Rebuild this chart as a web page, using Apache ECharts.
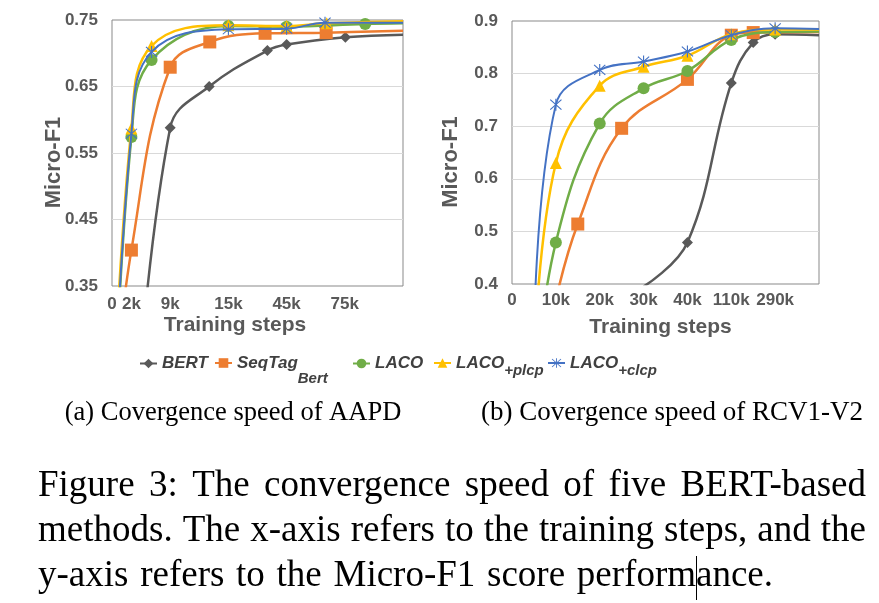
<!DOCTYPE html>
<html><head><meta charset="utf-8">
<script src="https://cdn.jsdelivr.net/npm/echarts@6/dist/echarts.min.js"></script>
<style>html,body{margin:0;padding:0;background:#fff}#c{width:879px;height:603px}</style>
</head><body><div id="c"></div>
<script>
// ================= DATA =================
const seriesMain = ['BERT', 'SeqTag', 'LACO', 'LACO', 'LACO'];
const seriesSub  = ['', 'Bert', '', '+plcp', '+clcp'];

// (a) AAPD — x is the position on the (non-linear) training-step axis
const aapdTickPos    = [0, 1/3, 1, 2, 3, 4];
const aapdTickLabels = ['0', '2k', '9k', '15k', '45k', '75k'];
const aapdBertX = [1/3, 1, 1.67, 2.67, 3, 4.01, 5];
const aapdBertY = [0.05, 0.588, 0.650, 0.704, 0.713, 0.724, 0.728];
const aapdSeqX  = [0, 1/3, 1, 1.68, 2.63, 3.68, 5];
const aapdSeqY  = [0.16, 0.404, 0.679, 0.717, 0.730, 0.731, 0.734];
const aapdLacoX = [0, 1/3, 0.68, 2, 3, 4.35, 5];
const aapdLacoY = [0.09, 0.574, 0.690, 0.741, 0.740, 0.744, 0.745];
const aapdPlcpX = [0, 1/3, 0.68, 2, 3, 3.69, 5];
const aapdPlcpY = [0.13, 0.587, 0.711, 0.742, 0.741, 0.745, 0.748];
const aapdClcpX = [0, 1/3, 0.68, 2, 3, 3.66, 5];
const aapdClcpY = [0.10, 0.579, 0.702, 0.736, 0.737, 0.746, 0.746];

// (b) RCV1-V2
const rcvTickLabels = ['0', '10k', '20k', '30k', '40k', '110k', '290k'];
const rcvBertX = [3, 4, 5, 5.5, 6, 7];
const rcvBertY = [0.395, 0.479, 0.782, 0.859, 0.875, 0.873];
const rcvSeqX  = [1, 1.5, 2.5, 4, 5, 5.5, 7];
const rcvSeqY  = [0.37, 0.514, 0.696, 0.789, 0.873, 0.878, 0.879];
const rcvLacoX = [0.5, 1, 2, 3, 4, 5, 6, 7];
const rcvLacoY = [0.20, 0.479, 0.705, 0.772, 0.805, 0.864, 0.879, 0.880];
const rcvPlcpX = [0.5, 1, 2, 3, 4, 5, 6, 7];
const rcvPlcpY = [0.25, 0.630, 0.777, 0.813, 0.834, 0.875, 0.884, 0.884];
const rcvClcpX = [0.5, 1, 2, 3, 4, 5, 6, 7];
const rcvClcpY = [0.28, 0.741, 0.807, 0.823, 0.842, 0.873, 0.886, 0.885];

const captionA = '(a) Covergence speed of AAPD';
const captionB = '(b) Covergence speed of RCV1-V2';
const figureLines = [
  'Figure 3: The convergence speed of five BERT-based',
  'methods. The x-axis refers to the training steps, and the',
  'y-axis refers to the Micro-F1 score performance.'
];
// ========================================

const colors = ['#595959', '#ED7D31', '#70AD47', '#FFC000', '#4472C4'];
const asterisk = 'path://M11,0h2v24h-2z M1.4,2.8L2.8,1.4L22.6,21.2L21.2,22.6z M21.2,1.4L22.6,2.8L2.8,22.6L1.4,21.2z';
const symbols = ['diamond', 'rect', 'circle', 'triangle', asterisk];
const sizes = [11, 13, 12, 12, 12];
const names = seriesMain.map((m, i) => m + seriesSub[i]);
const sansF = '"Liberation Sans", Arial, sans-serif';
const serifF = '"Liberation Serif", "Times New Roman", serif';
const axisGray = '#595959';

function mk(i, xs, ys, g, yMin, xMax) {
  return {
    type: 'line', name: names[i], xAxisIndex: g, yAxisIndex: g,
    smooth: 0.4, symbol: symbols[i], symbolSize: sizes[i], showAllSymbol: true,
    clip: true, z: 2 + i,
    lineStyle: { color: colors[i], width: i === 4 ? 2 : 2.5 },
    itemStyle: { color: colors[i] },
    data: xs.map((x, k) => ({
      value: [x, ys[k]],
      symbol: (ys[k] < yMin || x >= xMax) ? 'none' : symbols[i]
    }))
  };
}

const series = [
  mk(0, aapdBertX, aapdBertY, 0, 0.35, 5),
  mk(1, aapdSeqX, aapdSeqY, 0, 0.35, 5),
  mk(2, aapdLacoX, aapdLacoY, 0, 0.35, 5),
  mk(3, aapdPlcpX, aapdPlcpY, 0, 0.35, 5),
  mk(4, aapdClcpX, aapdClcpY, 0, 0.35, 5),
  mk(0, rcvBertX, rcvBertY, 1, 0.4, 7),
  mk(1, rcvSeqX, rcvSeqY, 1, 0.4, 7),
  mk(2, rcvLacoX, rcvLacoY, 1, 0.4, 7),
  mk(3, rcvPlcpX, rcvPlcpY, 1, 0.4, 7),
  mk(4, rcvClcpX, rcvClcpY, 1, 0.4, 7)
];

const tickLabelStyle = { color: axisGray, fontWeight: 'bold', fontSize: 17, fontFamily: sansF };
const nameStyle = { color: axisGray, fontWeight: 'bold', fontSize: 22, fontFamily: sansF };

function xAx(g, max, interval, fmt, gap, padR, margin) {
  return {
    gridIndex: g, type: 'value', min: 0, max: max, interval: interval,
    splitLine: { show: false }, axisLine: { show: false }, axisTick: { show: false },
    axisLabel: Object.assign({ margin: margin, formatter: fmt, showMaxLabel: true, showMinLabel: true }, tickLabelStyle),
    name: 'Training steps', nameLocation: 'middle', nameGap: gap, nameMoveOverlap: false,
    nameTextStyle: Object.assign({}, nameStyle, { fontSize: 21, padding: [0, padR, 0, 0] })
  };
}
function yAx(g, min, max, dec, gap) {
  return {
    gridIndex: g, type: 'value', min: min, max: max, interval: 0.1,
    axisLine: { show: false }, axisTick: { show: false },
    splitLine: { show: true, showMinLine: false, showMaxLine: false, lineStyle: { color: '#D9D9D9', width: 1 } },
    axisLabel: Object.assign({ margin: 14, formatter: v => v.toFixed(dec) }, tickLabelStyle),
    name: 'Micro-F1', nameLocation: 'middle', nameGap: gap, nameMoveOverlap: false,
    nameTextStyle: Object.assign({}, nameStyle, { padding: [0, 19, 0, 0] })
  };
}

const legendLefts = [139, 214, 352, 433, 547];
const legendTops = [355, 352, 355, 352, 352];
const legendBase = { fontFamily: sansF, fontStyle: 'italic', fontWeight: 'bold', color: '#404040' };
const legends = names.map((n, i) => ({
  left: legendLefts[i], top: legendTops[i], data: [n], padding: 0, itemGap: 0,
  itemWidth: 17, itemHeight: 12, selectedMode: false,
  formatter: () => seriesSub[i] ? '{m|' + seriesMain[i] + '}{' + (i === 1 ? 's1' : 's2') + '|' + seriesSub[i] + '}' : '{m|' + seriesMain[i] + '}',
  textStyle: {
    rich: {
      m: Object.assign({ fontSize: 17, lineHeight: 22, verticalAlign: 'middle' }, legendBase),
      s1: Object.assign({ fontSize: 15, lineHeight: 16, padding: [19, 0, 0, 0], verticalAlign: 'top' }, legendBase),
      s2: Object.assign({ fontSize: 15, lineHeight: 16, padding: [11, 0, 0, 0], verticalAlign: 'top' }, legendBase)
    }
  }
}));

// ---- caption text (justified like the paper) ----
const ctx = document.createElement('canvas').getContext('2d');
const capFontSize = 37;
ctx.font = capFontSize + 'px ' + serifF;
const graphics = [];
const capX0 = 38, capRight = [866, 866, 773], capBase = [498, 543, 588];
figureLines.forEach((line, li) => {
  const words = line.split(' ');
  const ws = words.map(w => ctx.measureText(w).width);
  const total = ws.reduce((a, b) => a + b, 0);
  const gap = (capRight[li] - capX0 - total) / (words.length - 1);
  let x = capX0;
  words.forEach((w, k) => {
    graphics.push({ type: 'text', x: x, y: capBase[li] - capFontSize * 0.33,
      style: { text: w, font: capFontSize + 'px ' + serifF, fill: '#000', textAlign: 'left', verticalAlign: 'middle', textVerticalAlign: 'middle' } });
    x += ws[k] + gap;
  });
});
graphics.push({ type: 'text', x: 233, y: 413, style: { text: captionA, font: '26.5px ' + serifF, fill: '#000', textAlign: 'center', verticalAlign: 'middle', textVerticalAlign: 'middle' } });
graphics.push({ type: 'text', x: 672, y: 413, style: { text: captionB, font: '27px ' + serifF, fill: '#000', textAlign: 'center', verticalAlign: 'middle', textVerticalAlign: 'middle' } });
graphics.push({ type: 'line', shape: { x1: 696.5, y1: 556, x2: 696.5, y2: 600 }, style: { stroke: '#000', lineWidth: 1 } });

const chart = echarts.init(document.getElementById('c'), null, { renderer: 'canvas' });
chart.setOption({
  animation: false,
  backgroundColor: '#fff',
  grid: [
    { left: 112, top: 20, width: 291, height: 266, show: true, borderColor: '#898989', borderWidth: 1, backgroundColor: 'transparent' },
    { left: 512, top: 21, width: 307, height: 263, show: true, borderColor: '#898989', borderWidth: 1, backgroundColor: 'transparent' }
  ],
  xAxis: [
    xAx(0, 5, 1/3, v => { const k = aapdTickPos.findIndex(p => Math.abs(p - v) < 1e-6); return k < 0 ? '' : aapdTickLabels[k]; }, 29, 45, 10),
    xAx(1, 7, 1, v => { const k = Math.round(v); return k < rcvTickLabels.length ? rcvTickLabels[k] : ''; }, 33, 10, 8)
  ],
  yAxis: [ yAx(0, 0.35, 0.75, 2, 47), yAx(1, 0.4, 0.9, 1, 50) ],
  legend: legends,
  series: series,
  graphic: graphics
});
</script></body></html>
